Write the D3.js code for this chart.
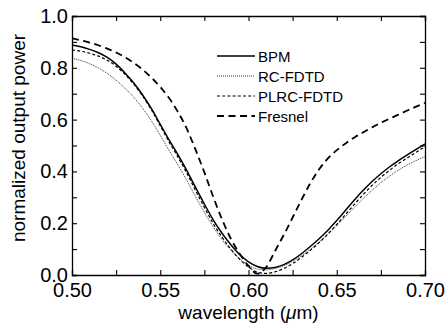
<!DOCTYPE html>
<html>
<head>
<meta charset="utf-8">
<script src="https://cdn.jsdelivr.net/npm/d3@7"></script>
<style>
  body { margin: 0; background: #fff; }
</style>
</head>
<body>
<svg width="448" height="329"></svg>
<script>
//Width and height
var w = 448;
var h = 329;
var margin = {left: 72, right: 23, top: 16, bottom: 54};

// wavelength grid (um)
var wavelength = [0.500, 0.505, 0.510, 0.515, 0.520, 0.525, 0.530, 0.535, 0.540, 0.545,
                  0.550, 0.555, 0.560, 0.565, 0.570, 0.575, 0.580, 0.585, 0.590, 0.595,
                  0.600, 0.605, 0.610, 0.615, 0.620, 0.625, 0.630, 0.635, 0.640, 0.645,
                  0.650, 0.655, 0.660, 0.665, 0.670, 0.675, 0.680, 0.685, 0.690, 0.695, 0.700];

var bpm = [0.888, 0.881, 0.871, 0.858, 0.840, 0.814, 0.780, 0.741, 0.695, 0.642,
           0.582, 0.522, 0.465, 0.404, 0.338, 0.274, 0.213, 0.161, 0.117, 0.079,
           0.051, 0.033, 0.026, 0.029, 0.040, 0.058, 0.082, 0.110, 0.140, 0.173,
           0.210, 0.250, 0.290, 0.327, 0.361, 0.391, 0.418, 0.442, 0.464, 0.485, 0.506];

var rcfdtd = [0.837, 0.828, 0.816, 0.799, 0.778, 0.752, 0.721, 0.686, 0.644, 0.595,
              0.539, 0.481, 0.425, 0.366, 0.302, 0.242, 0.186, 0.137, 0.096, 0.063,
              0.037, 0.023, 0.020, 0.025, 0.036, 0.053, 0.074, 0.099, 0.127, 0.158,
              0.191, 0.226, 0.261, 0.295, 0.327, 0.356, 0.382, 0.405, 0.425, 0.442, 0.457];

var plrcfdtd = [0.869, 0.864, 0.856, 0.845, 0.829, 0.806, 0.775, 0.737, 0.691, 0.638,
                0.576, 0.514, 0.456, 0.394, 0.326, 0.261, 0.199, 0.146, 0.100, 0.061,
                0.031, 0.011, 0.006, 0.012, 0.025, 0.044, 0.068, 0.095, 0.125, 0.158,
                0.195, 0.234, 0.273, 0.311, 0.346, 0.377, 0.405, 0.430, 0.452, 0.474, 0.495];

var fresnel = [0.914, 0.906, 0.897, 0.887, 0.874, 0.859, 0.841, 0.819, 0.793, 0.762,
               0.726, 0.683, 0.630, 0.565, 0.484, 0.396, 0.302, 0.215, 0.140, 0.082,
               0.035, 0.005, 0.030, 0.092, 0.155, 0.222, 0.290, 0.354, 0.408, 0.450,
               0.482, 0.508, 0.531, 0.551, 0.570, 0.588, 0.604, 0.619, 0.635, 0.650, 0.665];

var seriesNames = ["BPM", "RC-FDTD", "PLRC-FDTD", "Fresnel"];
var seriesValues = [bpm, rcfdtd, plrcfdtd, fresnel];

var xTicks = [0.50, 0.55, 0.60, 0.65, 0.70];
var xMinor = [0.525, 0.575, 0.625, 0.675];
var yTicks = [0.0, 0.2, 0.4, 0.6, 0.8, 1.0];
var yMinor = [0.1, 0.3, 0.5, 0.7, 0.9];

// line styles per series
var styles = [
    {width: 1.5, dash: null, color: "#000"},
    {width: 1.0, dash: "1,1", color: "#333"},
    {width: 1.2, dash: "3,2.2", color: "#000"},
    {width: 1.8, dash: "7,4.5", color: "#000"}
];

// no serif face in the sandbox, use the Arial-metric one
var font = "'Liberation Sans', Arial, sans-serif";

var svg = d3.select("svg");

var x = d3.scaleLinear().domain([0.5, 0.7]).range([margin.left, w - margin.right]);
var y = d3.scaleLinear().domain([0, 1]).range([h - margin.bottom, margin.top]);

//curves
var line = d3.line()
    .x(d => x(d[0]))
    .y(d => y(d[1]))
    .curve(d3.curveMonotoneX);

var plot = svg.append("g");
plot.append("defs").append("clipPath").attr("id", "clip")
    .append("rect")
    .attr("x", x(0.5)).attr("y", y(1))
    .attr("width", x(0.7) - x(0.5)).attr("height", y(0) - y(1));

seriesValues.forEach(function (vals, i) {
    var pts = wavelength.map((wl, j) => [wl, vals[j]]);
    plot.append("path")
        .datum(pts)
        .attr("clip-path", "url(#clip)")
        .attr("d", line)
        .attr("fill", "none")
        .attr("stroke", styles[i].color)
        .attr("stroke-width", styles[i].width)
        .attr("stroke-dasharray", styles[i].dash);
});

//axes, ticks inward on all four sides
var tl = 5;
var bottomAxis = d3.axisBottom(x).tickValues(xTicks.concat(xMinor)).tickSize(-tl).tickPadding(8)
    .tickFormat(d => xTicks.indexOf(d) >= 0 ? d3.format(".2f")(d) : "");
var topAxis = d3.axisTop(x).tickValues(xTicks.concat(xMinor)).tickSize(-tl).tickFormat("");
var leftAxis = d3.axisLeft(y).tickValues(yTicks.concat(yMinor)).tickSize(-tl).tickPadding(4)
    .tickFormat(d => yTicks.indexOf(d) >= 0 ? d3.format(".1f")(d) : "");
var rightAxis = d3.axisRight(y).tickValues(yTicks.concat(yMinor)).tickSize(-tl).tickFormat("");

function styleAxis(g) {
    g.attr("font-family", font).attr("font-size", 20);
    g.selectAll(".domain").attr("stroke", "#000").attr("stroke-width", 1.3);
    g.selectAll(".tick line").attr("stroke", "#000").attr("stroke-width", 1.1);
    g.selectAll(".tick text").attr("fill", "#000");
}

svg.append("g").attr("transform", "translate(0," + (h - margin.bottom) + ")").call(bottomAxis).call(styleAxis);
svg.append("g").attr("transform", "translate(0," + margin.top + ")").call(topAxis).call(styleAxis);
svg.append("g").attr("transform", "translate(" + margin.left + ",0)").call(leftAxis).call(styleAxis);
svg.append("g").attr("transform", "translate(" + (w - margin.right) + ",0)").call(rightAxis).call(styleAxis);

//axis titles
var xt = svg.append("text")
    .attr("x", (x(0.5) + x(0.7)) / 2)
    .attr("y", 319)
    .attr("text-anchor", "middle")
    .attr("font-family", font)
    .attr("font-size", 19);
xt.append("tspan").text("wavelength (");
xt.append("tspan").attr("font-style", "italic").text("\u03bc");
xt.append("tspan").text("m)");

svg.append("text")
    .attr("transform", "translate(25," + 138 + ") rotate(-90)")
    .attr("text-anchor", "middle")
    .attr("font-family", font)
    .attr("font-size", 19)
    .text("normalized output power");

//legend
var legend = svg.append("g").attr("font-family", font).attr("font-size", 15);
var legendY = [56, 76, 96, 116];
seriesNames.forEach(function (name, i) {
    legend.append("line")
        .attr("x1", 217).attr("x2", 255)
        .attr("y1", legendY[i]).attr("y2", legendY[i])
        .attr("stroke", styles[i].color)
        .attr("stroke-width", styles[i].width)
        .attr("stroke-dasharray", styles[i].dash);
    legend.append("text")
        .attr("x", 258)
        .attr("y", legendY[i] + 5.5)
        .text(name);
});
</script>
</body>
</html>
